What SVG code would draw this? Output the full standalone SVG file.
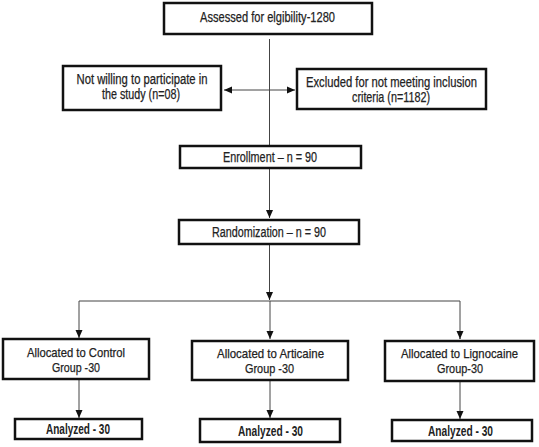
<svg xmlns="http://www.w3.org/2000/svg" width="539" height="447" viewBox="0 0 539 447">
<style>
.box{fill:#fff;stroke:#111;stroke-width:2.5}
.t{font-family:"Liberation Sans Narrow","Liberation Sans",Arial,sans-serif;font-size:14px;fill:#222;stroke:#222;stroke-width:0.25;text-anchor:middle}
.s{font-size:13px}
.b{font-weight:bold;stroke-width:0}
.c{fill:none;stroke:#444;stroke-width:1}
</style>
<defs>
<marker id="ah" markerUnits="userSpaceOnUse" markerWidth="8" markerHeight="8" viewBox="0 0 8 8" refX="8" refY="4" orient="auto-start-reverse">
<path d="M0,0.5 L8,4 L0,7.5 Z" fill="#111"/>
</marker>
</defs>
<rect width="539" height="447" fill="#fff"/>
<g id="connectors">
<line class="c" x1="269.5" y1="39" x2="269.5" y2="145"/>
<line class="c" x1="224" y1="90" x2="295" y2="90" marker-start="url(#ah)" marker-end="url(#ah)"/>
<line class="c" x1="269.5" y1="169" x2="269.5" y2="218" marker-end="url(#ah)"/>
<line class="c" x1="269.5" y1="245" x2="269.5" y2="300" marker-end="url(#ah)"/>
<polyline class="c" points="79,337 79,301 460,301 460,339"/>
<line class="c" x1="79" y1="337" x2="79" y2="338" marker-end="url(#ah)"/>
<line class="c" x1="460" y1="338" x2="460" y2="339" marker-end="url(#ah)"/>
<line class="c" x1="270" y1="301" x2="270" y2="339" marker-end="url(#ah)"/>
<line class="c" x1="79" y1="380" x2="79" y2="418" marker-end="url(#ah)"/>
<line class="c" x1="270" y1="381" x2="270" y2="418" marker-end="url(#ah)"/>
<line class="c" x1="460" y1="382" x2="460" y2="419" marker-end="url(#ah)"/>
</g>
<g id="assessed">
<rect class="box" x="164" y="3" width="208" height="31"/>
<text class="t" x="267.5" y="22" textLength="135" lengthAdjust="spacingAndGlyphs">Assessed  for elgibility-1280</text>
</g>
<g id="not-willing">
<rect class="box" x="63" y="66" width="158" height="44"/>
<text class="t" x="142" y="84" textLength="131" lengthAdjust="spacingAndGlyphs">Not willing to participate in</text>
<text class="t" x="141" y="99" textLength="78" lengthAdjust="spacingAndGlyphs">the study  (n=08)</text>
</g>
<g id="excluded">
<rect class="box" x="297" y="69" width="189" height="40"/>
<text class="t" x="391.5" y="87" textLength="171" lengthAdjust="spacingAndGlyphs">Excluded for not meeting inclusion</text>
<text class="t" x="391" y="102" textLength="78" lengthAdjust="spacingAndGlyphs">criteria (n=1182)</text>
</g>
<g id="enrollment">
<rect class="box" x="180" y="146" width="181" height="22"/>
<text class="t" x="270" y="162" textLength="94" lengthAdjust="spacingAndGlyphs">Enrollment – n = 90</text>
</g>
<g id="randomization">
<rect class="box" x="179" y="220" width="180" height="24"/>
<text class="t" x="269" y="237" textLength="114" lengthAdjust="spacingAndGlyphs">Randomization – n = 90</text>
</g>
<g id="alloc-control">
<rect class="box" x="3" y="339" width="146" height="40"/>
<text class="t s" x="76" y="356.5" textLength="98" lengthAdjust="spacingAndGlyphs">Allocated to Control</text>
<text class="t s" x="76" y="371.5" textLength="48" lengthAdjust="spacingAndGlyphs">Group -30</text>
</g>
<g id="alloc-articaine">
<rect class="box" x="192" y="341" width="156" height="39"/>
<text class="t s" x="270.5" y="357.5" textLength="107" lengthAdjust="spacingAndGlyphs">Allocated to Articaine</text>
<text class="t s" x="269.5" y="372.5" textLength="49" lengthAdjust="spacingAndGlyphs">Group -30</text>
</g>
<g id="alloc-lignocaine">
<rect class="box" x="385" y="341" width="149" height="40"/>
<text class="t s" x="459.5" y="357.5" textLength="117" lengthAdjust="spacingAndGlyphs">Allocated to Lignocaine</text>
<text class="t s" x="460" y="372.5" textLength="46" lengthAdjust="spacingAndGlyphs">Group-30</text>
</g>
<g id="analyzed-control">
<rect class="box" x="15" y="419" width="127" height="20"/>
<text class="t b" x="78" y="434" textLength="64" lengthAdjust="spacingAndGlyphs">Analyzed - 30</text>
</g>
<g id="analyzed-articaine">
<rect class="box" x="200" y="419" width="140" height="23"/>
<text class="t b" x="270.5" y="436" textLength="65" lengthAdjust="spacingAndGlyphs">Analyzed - 30</text>
</g>
<g id="analyzed-lignocaine">
<rect class="box" x="392" y="420" width="140" height="21"/>
<text class="t b" x="460.5" y="436" textLength="65" lengthAdjust="spacingAndGlyphs">Analyzed - 30</text>
</g>
</svg>
